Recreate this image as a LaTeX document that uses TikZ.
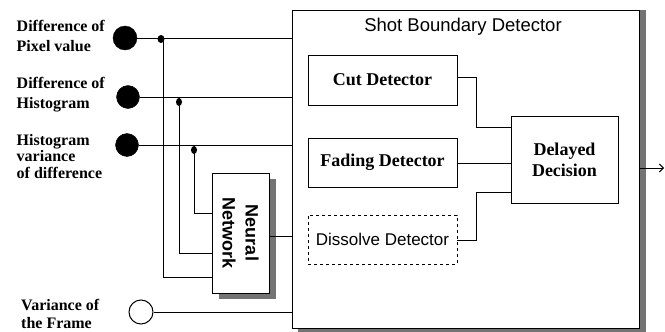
\documentclass[tikz,border=0pt]{standalone}
\usepackage{fontspec}
\setmainfont{Liberation Serif}
\setsansfont{Liberation Sans}
\usetikzlibrary{backgrounds,arrows.meta,calc,shapes.geometric}
\begin{document}
\begin{tikzpicture}[x=1pt,y=-1pt,
  wire/.style={line width=0.9pt},
  boxn/.style={draw,line width=1pt,fill=white,inner sep=0pt},
  lbl/.style={anchor=north west,inner sep=0pt,align=left,font=\fontsize{16}{20}\selectfont\bfseries},
  boxtxt/.style={font=\fontsize{18}{21}\selectfont\bfseries,align=center},
  shadefill/.style={fill=black!55},
  dot/.style={fill=black,ellipse,inner sep=0pt},
  bigdot/.style={circle,fill=black,draw=black,minimum size=24pt,inner sep=0pt},
  opendot/.style={circle,draw=black,line width=1pt,fill=white,minimum size=24pt,inner sep=0pt}]
\useasboundingbox (0,0) rectangle (665,332);

% main detector box
\node[boxn,minimum width=347pt,minimum height=318pt] (sbd) at (465.5,169) {};
\node[font=\fontsize{18.5}{22}\selectfont\sffamily] (title) at (463,27) {Shot Boundary Detector};

\node[boxn,minimum width=149pt,minimum height=50pt,boxtxt] (cut) at (382.5,80) {Cut Detector};
\node[boxn,minimum width=149pt,minimum height=49pt,boxtxt] (fad) at (382.5,162.5) {Fading Detector};
\node[draw,dashed,line width=0.9pt,inner sep=0pt,minimum width=149pt,minimum height=49pt,
      font=\fontsize{17}{20}\selectfont\sffamily] (dis) at (382.5,239.5) {Dissolve Detector};
\node[boxn,minimum width=107pt,minimum height=87pt,boxtxt] (dd) at (564.5,159.5) {Delayed\\Decision};

% neural network
\node[boxn,minimum width=57pt,minimum height=120pt] (nn) at (240.5,233) {};
\node[rotate=-90,align=center,font=\fontsize{18}{23}\selectfont\sffamily\bfseries] (nnt) at (nn.center) {Neural\\Network};

% inputs
\node[bigdot] (c1) at (125,38) {};
\node[bigdot,minimum size=23pt] (c2) at (128,97) {};
\node[bigdot,minimum size=23pt] (c3) at (127,145) {};
\node[opendot] (c4) at (141,312) {};

\node[lbl] (l1) at (16.5,20.5) {Difference of\\Pixel value};
\node[lbl,font=\fontsize{16}{19.4}\selectfont\bfseries] (l2) at (16.5,77.3) {Difference of\\Histogram};
\node[lbl,font=\fontsize{16}{16.5}\selectfont\bfseries] (l3) at (16.5,134) {Histogram\\variance\\of difference};
\node[lbl,font=\fontsize{16}{18}\selectfont\bfseries] (l4) at (21,299) {Variance of\\the Frame};

% coordinates
\coordinate (s1) at (sbd.west |- c1);
\coordinate (s2) at (sbd.west |- c2);
\coordinate (s3) at (sbd.west |- c3);
\coordinate (s4) at (sbd.west |- c4);

\draw[wire] (c1.east) -- (s1);
\draw[wire] (c2.east) -- (s2);
\draw[wire] (c3.east) -- (s3);
\draw[wire] (c4.east) -- (s4);

\coordinate (j1) at (163,38);
\coordinate (j2) at (179,97);
\coordinate (j3) at (194,145);
\coordinate (n1) at (nn.west |- 0,277);
\coordinate (n2) at (nn.west |- 0,253);
\coordinate (n3) at (nn.west |- 0,213);
\draw[wire] (j1) |- (n1);
\draw[wire] (j2) |- (n2);
\draw[wire] (j3) |- (n3);
\node[dot,minimum width=7pt,minimum height=8pt] (d1) at (161,39) {};
\node[dot,minimum width=6pt,minimum height=8pt] (d2) at (179,102) {};
\node[dot,minimum width=6pt,minimum height=8pt] (d3) at (194,150) {};

\coordinate (nno) at ([xshift=6pt]nn.east |- 0,236);
\draw[wire] (nn.east |- nno) -- (sbd.west |- nno);

% internal connectors
\coordinate (cx) at (476,0);
\draw[wire] (cut.east |- 0,77) -| (cx |- 0,127) -- (dd.west |- 0,127);
\draw[wire] (fad.east |- 0,163) -- (dd.west |- 0,163);
\draw[wire] (dis.east |- 0,240) -| (cx |- 0,192) -- (dd.west |- 0,192);

% output
\coordinate (out) at (664,168);
\draw[wire,-{Straight Barb[length=4pt,width=8pt]}] (sbd.east |- out) -- (out);

% shadows
\begin{scope}[on background layer]
\fill[shadefill] (sbd.north east) rectangle ([xshift=6pt,yshift=-4pt]sbd.south east);
\fill[shadefill] ([xshift=6pt]sbd.south west) rectangle ([xshift=6pt,yshift=-4pt]sbd.south east);
\fill[shadefill] ([yshift=-6pt]nn.north east) rectangle ([xshift=6pt,yshift=-5pt]nn.south east);
\fill[shadefill] ([xshift=7pt]nn.south west) rectangle ([xshift=6pt,yshift=-5pt]nn.south east);
\end{scope}
\end{tikzpicture}
\end{document}
